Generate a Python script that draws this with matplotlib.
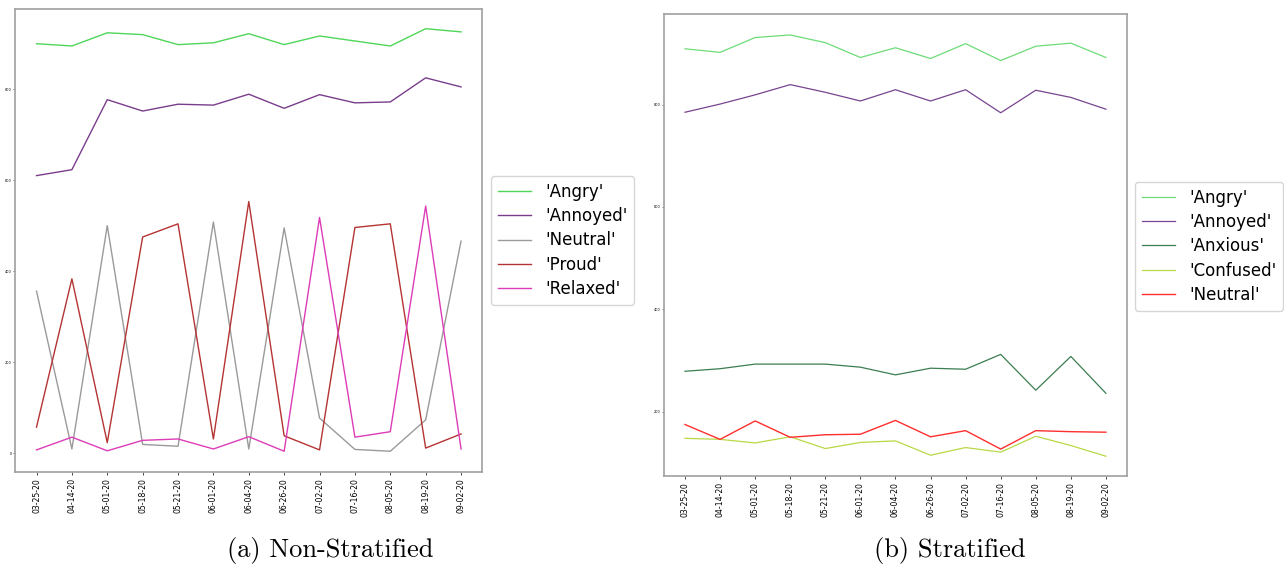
import matplotlib.pyplot as plt

# dates on the x axis
dates = ['03-25-20', '04-14-20', '05-01-20', '05-18-20', '05-21-20', '06-01-20', '06-04-20',
         '06-26-20', '07-02-20', '07-16-20', '08-05-20', '08-19-20', '09-02-20']

# (a) non-stratified
ns_angry = [900, 895, 924, 920, 898, 902, 922, 898, 917, 906, 895, 933, 926]
ns_annoyed = [610, 623, 777, 752, 767, 765, 789, 758, 788, 770, 772, 825, 805]
ns_neutral = [356, 9, 500, 19, 15, 508, 9, 495, 77, 8, 4, 73, 466]
ns_proud = [57, 383, 23, 475, 504, 31, 553, 38, 7, 496, 504, 11, 42]
ns_relaxed = [7, 35, 5, 28, 31, 9, 36, 4, 518, 35, 47, 543, 9]

# (b) stratified
st_angry = [909, 902, 931, 936, 921, 892, 911, 890, 919, 886, 914, 920, 892]
st_annoyed = [785, 801, 819, 839, 824, 807, 829, 807, 829, 784, 828, 814, 791]
st_anxious = [279, 284, 293, 293, 293, 287, 272, 285, 283, 312, 242, 308, 236]
st_confused = [148, 146, 139, 151, 128, 140, 143, 115, 130, 121, 152, 134, 113]
st_neutral = [175, 146, 182, 150, 155, 156, 183, 151, 163, 127, 163, 161, 160]

fig = plt.figure(figsize=(12.84, 5.68), dpi=100)
ax1 = fig.add_axes([0.0119, 0.1695, 0.3637, 0.8152])
ax2 = fig.add_axes([0.5171, 0.1625, 0.3606, 0.8129])

x = range(len(dates))

ax1.plot(x, ns_angry, color='#4fd65a', lw=1.0, label="'Angry'")
ax1.plot(x, ns_annoyed, color='#7a3d8c', lw=1.0, label="'Annoyed'")
ax1.plot(x, ns_neutral, color='#9a9a9a', lw=1.0, label="'Neutral'")
ax1.plot(x, ns_proud, color='#b53333', lw=1.0, label="'Proud'")
ax1.plot(x, ns_relaxed, color='#dd3cb8', lw=1.0, label="'Relaxed'")
ax1.set_ylim(-41, 977)
ax1.set_yticks([0, 200, 400, 600, 800])

ax2.plot(x, st_angry, color='#6ddc78', lw=0.9, label="'Angry'")
ax2.plot(x, st_annoyed, color='#784490', lw=0.9, label="'Annoyed'")
ax2.plot(x, st_anxious, color='#3c7d52', lw=0.9, label="'Anxious'")
ax2.plot(x, st_confused, color='#b9d845', lw=0.9, label="'Confused'")
ax2.plot(x, st_neutral, color='#ff2e2e', lw=1.0, label="'Neutral'")
ax2.set_ylim(75, 977)
ax2.set_yticks([200, 400, 600, 800])

for ax in (ax1, ax2):
    ax.set_xticks(list(x))
    ax.set_xticklabels(dates, rotation=90, fontsize=5.6)
    ax.tick_params(axis='y', labelsize=2.5, length=1.5, width=0.4, pad=1)
    ax.tick_params(axis='x', length=2.5, width=0.5, pad=2)
    for sp in ax.spines.values():
        sp.set_color('#a0a0a0')
        sp.set_linewidth(1.2)

ax1.legend(loc='upper left', bbox_to_anchor=(0.3824, 0.6901), bbox_transform=fig.transFigure,
           fontsize=12, borderaxespad=0, handlelength=2.0, handletextpad=0.85, labelspacing=0.38)
ax2.legend(loc='upper left', bbox_to_anchor=(0.8840, 0.6796), bbox_transform=fig.transFigure,
           fontsize=12, borderaxespad=0, handlelength=2.0, handletextpad=0.85, labelspacing=0.38)

fig.text(330 / 1284, 1 - 550 / 568, '(a) Non-Stratified', family='cmr10', fontsize=19,
         ha='center', va='center')
fig.text(950 / 1284, 1 - 550 / 568, '(b) Stratified', family='cmr10', fontsize=19,
         ha='center', va='center')

fig.savefig('out.png', dpi=100)
